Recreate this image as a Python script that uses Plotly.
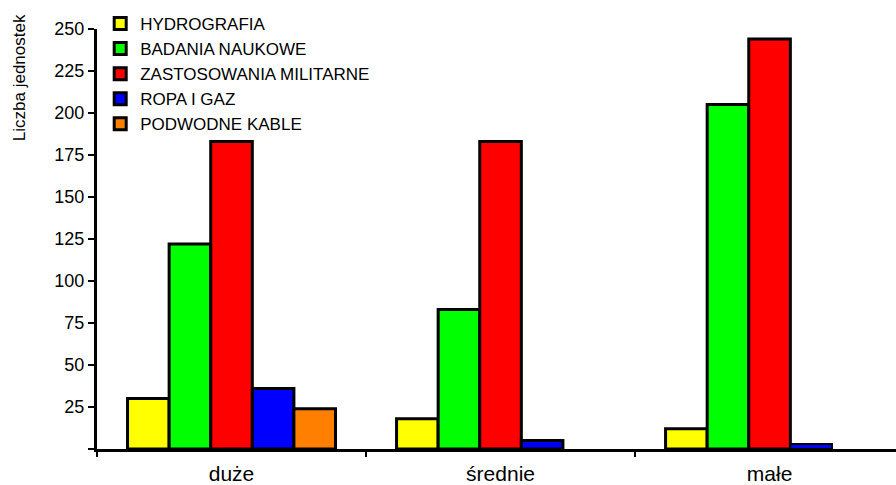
import plotly.graph_objects as go

# Research vessel counts by size class and application
categories = ["duże", "średnie", "małe"]
hydrografia = [30, 18, 12]
badania_naukowe = [122, 83, 205]
zastosowania_militarne = [183, 183, 244]
ropa_i_gaz = [36, 5, 3]
podwodne_kable = [24, 0, 0]

series = [
    ("HYDROGRAFIA", hydrografia, "#ffff00"),
    ("BADANIA NAUKOWE", badania_naukowe, "#00ff00"),
    ("ZASTOSOWANIA MILITARNE", zastosowania_militarne, "#ff0000"),
    ("ROPA I GAZ", ropa_i_gaz, "#0000ff"),
    ("PODWODNE KABLE", podwodne_kable, "#ff8000"),
]

y_ticks = [0, 25, 50, 75, 100, 125, 150, 175, 200, 225, 250]
y_tick_text = ["", "25", "50", "75", "100", "125", "150", "175", "200", "225", "250"]

FONT = "Liberation Sans, Arial, sans-serif"

fig = go.Figure()
for name, values, color in series:
    # empty categories get no outline so no stray stroke sits on the axis
    widths = [3 if v > 3 else (2 if v > 0 else 0) for v in values]
    fig.add_trace(go.Bar(
        x=categories, y=values, name=name,
        marker=dict(color=color, line=dict(color="#000000", width=widths)),
    ))

fig.update_layout(
    width=896, height=485,
    margin=dict(l=97, r=0, t=29, b=36),
    paper_bgcolor="#ffffff", plot_bgcolor="#ffffff",
    barmode="group", bargap=0.227, bargroupgap=0,
    font=dict(family=FONT, color="#000000"),
    showlegend=True,
    legend=dict(
        x=0.004, xanchor="left", y=1.055, yanchor="top",
        bgcolor="rgba(0,0,0,0)", borderwidth=0,
        font=dict(size=17, color="#000000", family=FONT),
        tracegroupgap=0,
    ),
    xaxis=dict(
        type="category", range=[-0.5, 2.47],
        showline=True, linecolor="#000000", linewidth=3,
        ticks="outside", tickson="boundaries", ticklen=5, tickwidth=2, tickcolor="#000000",
        ticklabelstandoff=4,
        tickfont=dict(size=21, color="#000000", family=FONT),
        showgrid=False, zeroline=False,
    ),
    yaxis=dict(
        range=[0, 250], tickvals=y_ticks, ticktext=y_tick_text,
        showline=True, linecolor="#000000", linewidth=3,
        ticks="outside", ticklen=6, tickwidth=2, tickcolor="#000000",
        tickfont=dict(size=18, color="#000000", family=FONT),
        showgrid=False, zeroline=False,
    ),
    annotations=[dict(
        text="Liczba jednostek", textangle=-90,
        xref="paper", yref="paper", x=-0.097, y=1.04,
        xanchor="center", yanchor="top", showarrow=False,
        font=dict(size=17, color="#000000", family=FONT),
    )],
)

fig.write_html("out.html")
